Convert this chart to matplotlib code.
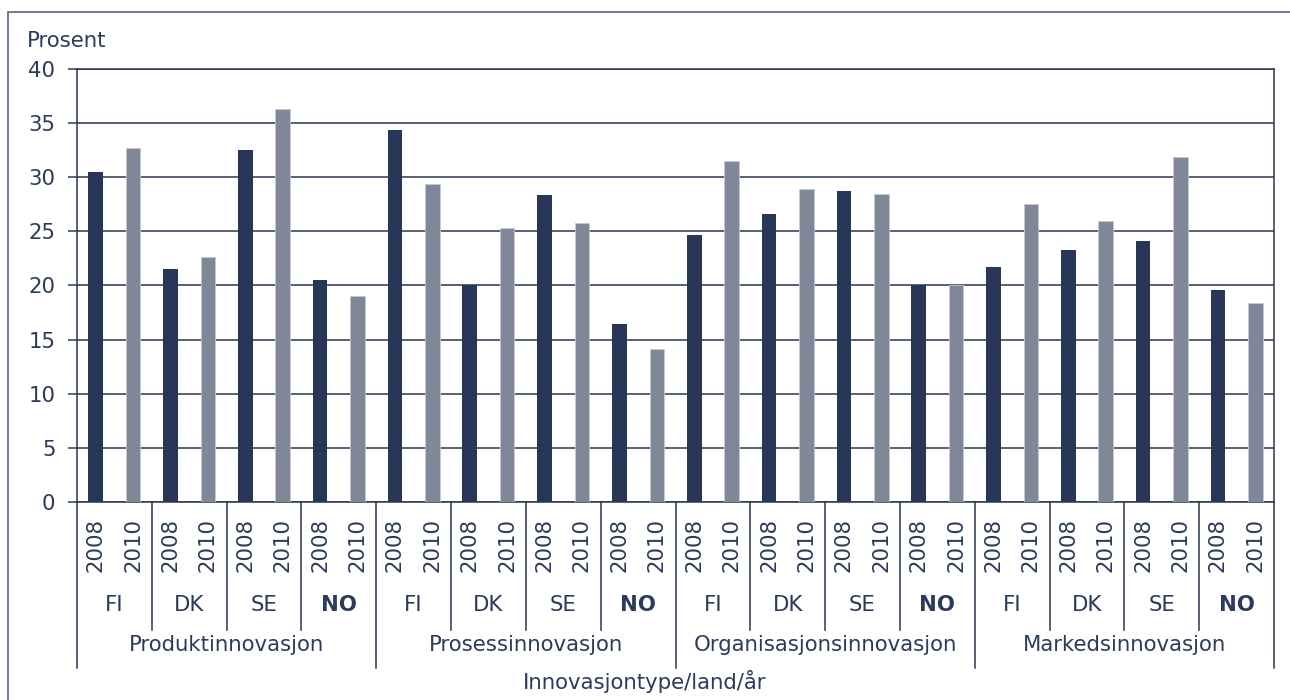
import numpy as np
import matplotlib.pyplot as plt
from matplotlib.lines import Line2D
from matplotlib.patches import Rectangle
import matplotlib.transforms as mtransforms

# Data
categories = ["Produktinnovasjon", "Prosessinnovasjon", "Organisasjonsinnovasjon", "Markedsinnovasjon"]
countries = ["FI", "DK", "SE", "NO"]
years = ["2008", "2010"]
v2008 = [30.5, 21.5, 32.5, 20.5,
         34.4, 20.0, 28.4, 16.4,
         24.7, 26.6, 28.7, 20.0,
         21.7, 23.3, 24.1, 19.6]
v2010 = [32.7, 22.6, 36.3, 19.0,
         29.4, 25.3, 25.8, 14.1,
         31.5, 28.9, 28.5, 20.0,
         27.5, 26.0, 31.9, 18.4]

dark = "#283657"
light = "#7f8799"
txt = "#2c3a5c"
fs = 15.3
plt.rcParams["font.family"] = ["DejaVu Sans"]
plt.rcParams["font.size"] = fs

fig = plt.figure(figsize=(12.9, 7), dpi=100)
ax = fig.add_axes([0.0597, 0.2833, 0.9279, 0.6177])

n_pairs = len(v2008)
x08 = np.arange(n_pairs) * 2
x10 = x08 + 1
ax.bar(x08, v2008, width=0.39, color=dark, zorder=3)
ax.bar(x10, v2010, width=0.39, color=light, edgecolor="#c4c8d4", linewidth=0.6, zorder=3)

ax.set_xlim(-0.5, 2 * n_pairs - 0.5)
ax.set_ylim(0, 40)
ax.set_yticks(range(0, 41, 5))
ax.yaxis.grid(True, color="#2b3552", linewidth=1.1, zorder=1)
ax.set_axisbelow(True)
ax.tick_params(axis="y", colors=txt, labelcolor=txt, length=6.5, width=1.1, pad=9, labelsize=fs)
ax.tick_params(axis="x", bottom=False, labelbottom=False)
for s in ax.spines.values():
    s.set_color("#2b3552")
    s.set_linewidth(1.1)

# multi-level category axis below the plot
trans = mtransforms.blended_transform_factory(ax.transData, fig.transFigure)
y_axis = 0.2833
for i in range(n_pairs + 1):
    xpos = 2 * i - 0.5
    bottom = 0.0457 if i % 4 == 0 else 0.1
    fig.add_artist(Line2D([xpos, xpos], [y_axis, bottom], transform=trans,
                          color="#2b3552", linewidth=1.1))

for i in range(n_pairs):
    for j, yr in enumerate(years):
        fig.text(2 * i + j, 0.2214, yr, transform=trans, rotation=90,
                 ha="center", va="center", color=txt, fontsize=fs)
    c = countries[i % 4]
    fig.text(2 * i + 0.5, 0.1357, c, transform=trans, ha="center", va="center",
             color=txt, fontsize=fs, fontweight="bold" if c == "NO" else "normal")

for k, cat in enumerate(categories):
    fig.text(8 * k + 3.5, 0.0786, cat, transform=trans, ha="center", va="center",
             color=txt, fontsize=fs)

fig.text(0.5, 0.026, "Innovasjontype/land/år", ha="center", va="center", color=txt, fontsize=fs)
fig.text(27 / 1290, 1 - 41 / 700, "Prosent", ha="left", va="center", color=txt, fontsize=fs)

# outer frame
fig.add_artist(Rectangle((8 / 1290, -0.1), 1.2, 1.1 - 12 / 700, transform=fig.transFigure,
                         fill=False, edgecolor="#5a6480", linewidth=1.2))

fig.savefig("out.png", dpi=100)
